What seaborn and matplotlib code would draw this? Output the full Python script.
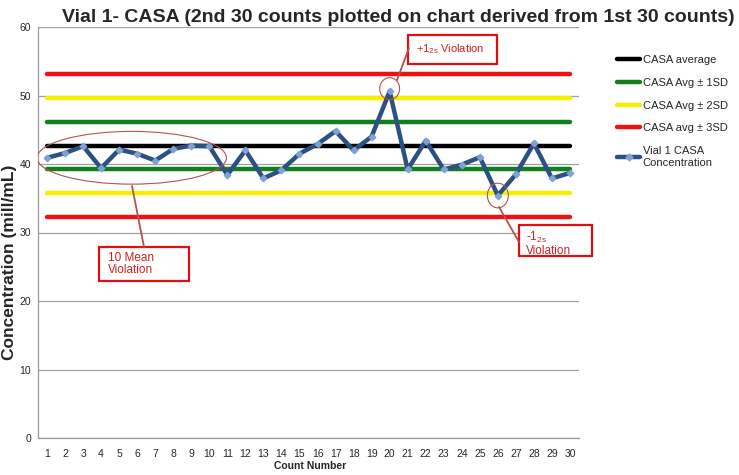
import numpy as np
import pandas as pd
import seaborn as sns
import matplotlib.pyplot as plt
from matplotlib.patches import Ellipse, Rectangle
from matplotlib.lines import Line2D

# ─── DATA ──────────────────────────────────────
counts = list(range(1, 31))
concentration = [40.9, 41.6, 42.6, 39.4, 42.1, 41.5, 40.5, 42.2, 42.7, 42.6,
                 38.4, 42.0, 37.9, 39.1, 41.5, 42.9, 44.8, 42.0, 44.0, 50.6,
                 39.2, 43.4, 39.2, 39.9, 41.0, 35.4, 38.5, 43.0, 37.9, 38.7]
casa_avg = 42.7
casa_sd = 3.5

limit_labels = ["CASA average", "CASA Avg ± 1SD", "CASA Avg ± 2SD", "CASA avg ± 3SD"]
series_label = "Vial 1 CASA\nConcentration"
title = "Vial 1- CASA (2nd 30 counts plotted on chart derived from 1st 30 counts)"
y_ticks = [0, 10, 20, 30, 40, 50, 60]

# ─── STYLE ─────────────────────────────────────
sns.set_style("white")
plt.rcParams['font.family'] = ['Liberation Sans', 'DejaVu Sans']
plt.rcParams['mathtext.fontset'] = 'custom'
plt.rcParams['mathtext.rm'] = 'Liberation Sans'
plt.rcParams['mathtext.default'] = 'regular'

W, H = 739, 475
fig = plt.figure(figsize=(W / 100, H / 100), dpi=100)
ax = fig.add_axes([38 / W, 1 - 438 / H, (579 - 38) / W, (438 - 27) / H])


def px(x, y):
    return x / W, 1 - y / H


limit_colors = ["black", "#11801a", "#f5f000", "#ee1111"]
line_color = "#2b5081"
marker_color = "#7fa2d4"
df = pd.DataFrame({"count": counts, "conc": concentration})

# control limit lines
ax.plot(counts, [casa_avg] * 30, color=limit_colors[0], lw=3.2, zorder=2)
for k in (1, 2, 3):
    for sgn in (1, -1):
        ax.plot(counts, [casa_avg + sgn * k * casa_sd] * 30,
                color=limit_colors[k], lw=3.2, zorder=2)

sns.lineplot(data=df, x="count", y="conc", ax=ax, color=line_color, lw=3.2,
             marker="D", markersize=3.5, markerfacecolor=marker_color,
             markeredgecolor=marker_color, zorder=4)

# ─── AXES ──────────────────────────────────────
ax.set_xlim(0.5, 30.5)
ax.set_ylim(0, 60)
ax.set_yticks(y_ticks)
ax.set_xticks(counts)
ax.set_xticks(np.arange(0.5, 31, 1), minor=True)
ax.tick_params(axis='x', which='major', length=0, labelsize=7.5, pad=8)
ax.tick_params(axis='x', which='minor', length=3, color="#999999", direction='out')
ax.tick_params(axis='y', length=3, color="#999999", labelsize=7.5, pad=2)
ax.grid(axis='y', color="#a0a0a0", lw=0.9)
ax.set_axisbelow(True)
for s in ("top", "right"):
    ax.spines[s].set_visible(False)
for s in ("left", "bottom"):
    ax.spines[s].set_color("#999999")
    ax.spines[s].set_linewidth(0.9)
ax.set_xlabel("")
ax.set_ylabel("")

fig.text(*px(398, 17), title, ha='center', va='center', fontsize=14,
         fontweight='bold')
fig.text(*px(10, 262), "Concentration (mill/mL)", rotation=90, ha='center',
         va='center', fontsize=12.5, fontweight='bold')
fig.text(*px(310, 466), "Count Number", ha='center', va='center',
         fontsize=7.5, fontweight='bold')

# ─── LEGEND ────────────────────────────────────
handles = [Line2D([], [], color=c, lw=3.2) for c in limit_colors]
handles.append(Line2D([], [], color=line_color, lw=3.2, marker="D",
                      markersize=3.5, markerfacecolor=marker_color,
                      markeredgecolor=marker_color))
fig.legend(handles, limit_labels + [series_label], loc='upper left',
           bbox_to_anchor=px(607, 45), frameon=False, fontsize=8,
           handlelength=2.1, handletextpad=0.2, labelspacing=1.15)

# ─── ANNOTATIONS ───────────────────────────────
ann_red = "#d42020"
ring = "#b5524f"

# ellipse around first ten counts
ax.add_patch(Ellipse((np.mean(counts[:10]) + 0.2, np.mean(concentration[:10]) - 0.7),
                     10.5, 7.7, fill=False, ec=ring, lw=0.8, zorder=5))
# circles at violations
ax.add_patch(Ellipse((counts[19], concentration[19] + 0.4), 1.1, 3.2,
                     fill=False, ec=ring, lw=0.8, zorder=5))
ax.add_patch(Ellipse((counts[25], concentration[25]), 1.16, 3.6,
                     fill=False, ec=ring, lw=0.8, zorder=5))

conn = [((132, 186), (144, 247)), ((397, 80), (409, 48)), ((499, 207), (519, 242))]
for a, b in conn:
    fig.add_artist(Line2D([px(*a)[0], px(*b)[0]], [px(*a)[1], px(*b)[1]],
                          color=ring, lw=1.3))

boxes = [(99, 247, 90, 34), (408, 35, 89, 29), (519, 225, 73, 31)]
for x, y, w, h in boxes:
    fig.add_artist(Rectangle(px(x, y + h), w / W, h / H, fill=True, fc="white",
                             ec="#e01010", lw=1.6))

fig.text(*px(108, 252), "10 Mean\nViolation", ha='left', va='top',
         color=ann_red, fontsize=8.5, linespacing=1.05)
fig.text(*px(416, 49.5), "+1$_{2s}$ Violation", ha='left', va='center',
         color=ann_red, fontsize=8)
fig.text(*px(526, 230), "-1$_{2s}$\nViolation", ha='left', va='top',
         color=ann_red, fontsize=8.5, linespacing=1.0)

fig.savefig("out.png", dpi=100)
